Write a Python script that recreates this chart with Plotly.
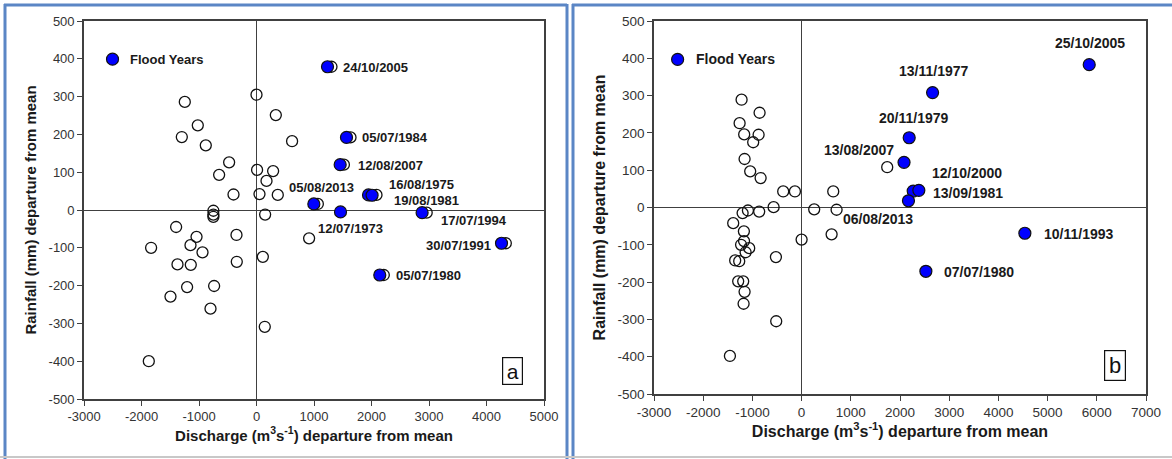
import plotly.graph_objects as go

# ---------------- data: panel a ----------------
a_other_x = [-476, -650, 10, 289, 174, -400, 52, 370, -750, -750, -750, 150, -1398, -1043, -348,
             -1833, -1148, -939, -343, 110, -1374, -1143, -1207, -737, -1496, -800,
             -1247, -1021, -1299, -882, 0, 336, 619, -1873, 144, 915,
             1304, 1635, 1520, 1067, 2087, 2960, 4336, 2214]
a_other_y = [126, 93, 106, 103, 77, 41, 42, 40, -2, -12, -18, -12, -45, -71, -66,
             -100, -93, -112, -137, -124, -144, -145, -204, -201, -229, -261,
             286, 224, 193, 171, 305, 251, 182, -400, -309, -75,
             379, 192, 120, 16, 40, -7, -88, -172]
a_flood_x = [1235, 1565, 1455, 997, 1461, 1948, 2010, 2880, 4261, 2144]
a_flood_y = [379, 192, 120, 16, -5, 40, 39, -7, -88, -172]
a_labels = ["24/10/2005", "05/07/1984", "12/08/2007", "05/08/2013", "16/08/1975",
            "19/08/1981", "17/07/1994", "12/07/1973", "30/07/1991", "05/07/1980"]
a_label_x = [1478, 1800, 1727, 539, 2278, 2348, 3170, 1043, 2910, 2388]
a_label_y = [376, 192, 119, 60, 68, 26, -28, -50, -93, -174]

# ---------------- data: panel b ----------------
b_other_x = [-1220, -854, -1260, -1167, -874, -984, -1159, -1045, -833, -374, -136, -569,
             -1199, -1091, -862, -1390, -1173, -1230, -1170, -1065, -1138, -1350, -1268,
             -1289, -1187, -1159, -1179, -522, -516, -1457, 0, 610, 643, 256, 711, 1740]
b_other_y = [289, 254, 226, 196, 195, 175, 130, 97, 79, 43, 43, 1,
             -15, -8, -11, -42, -64, -100, -90, -109, -120, -142, -144,
             -198, -198, -226, -258, -133, -305, -398, -86, -72, 43, -5, -6, 108]
b_flood_x = [5846, 2662, 2187, 2082, 2268, 2383, 2172, 4538, 2526]
b_flood_y = [383, 308, 187, 121, 44, 46, 18, -69, -171]
b_labels = ["25/10/2005", "13/11/1977", "20/11/1979", "13/08/2007", "12/10/2000",
            "13/09/1981", "06/08/2013", "10/11/1993", "07/07/1980"]
b_label_x = [5114, 1931, 1524, 407, 2608, 2622, 799, 4878, 2846]
b_label_y = [442, 365, 240, 153, 92, 40, -31, -71, -172]

# ---------------- ticks ----------------
y_ticks = [-500, -400, -300, -200, -100, 0, 100, 200, 300, 400, 500]
a_x_ticks = [-3000, -2000, -1000, 0, 1000, 2000, 3000, 4000, 5000]
b_x_ticks = [-3000, -2000, -1000, 0, 1000, 2000, 3000, 4000, 5000, 6000, 7000]

legend_text = "Flood Years"
x_title = "Discharge (m<sup>3</sup>s<sup>-1</sup>) departure from mean"
y_title = "Rainfall (mm) departure from mean"

FONT = "Liberation Sans, Arial, sans-serif"
BLUE = "#0000FF"
AXC = "#404040"

fig = go.Figure()

def add_panel(xo, yo, xf, yf, xa, ya, osize, fsize):
    fig.add_trace(go.Scatter(x=xo, y=yo, mode="markers", xaxis=xa, yaxis=ya,
                             marker=dict(size=osize, color="rgba(255,255,255,0)",
                                         line=dict(color="#111", width=1.3)),
                             showlegend=False, hoverinfo="x+y"))
    fig.add_trace(go.Scatter(x=xf, y=yf, mode="markers", xaxis=xa, yaxis=ya,
                             marker=dict(size=fsize, color=BLUE,
                                         line=dict(color="#111", width=1.2)),
                             showlegend=False, hoverinfo="x+y"))

add_panel(a_other_x, a_other_y, a_flood_x, a_flood_y, "x", "y", 11, 12)
add_panel(b_other_x, b_other_y, b_flood_x, b_flood_y, "x2", "y2", 11, 12)

# legend markers
fig.add_trace(go.Scatter(x=[-2504], y=[399], mode="markers", xaxis="x", yaxis="y",
                         marker=dict(size=12, color=BLUE, line=dict(color="#111", width=1.2)),
                         showlegend=False, hoverinfo="skip"))
fig.add_trace(go.Scatter(x=[-2520], y=[397], mode="markers", xaxis="x2", yaxis="y2",
                         marker=dict(size=12, color=BLUE, line=dict(color="#111", width=1.2)),
                         showlegend=False, hoverinfo="skip"))

annotations = []
for t, x, y in zip(a_labels, a_label_x, a_label_y):
    annotations.append(dict(text=f"<b>{t}</b>", x=x, y=y, xref="x", yref="y",
                            xanchor="left", yanchor="middle", showarrow=False,
                            font=dict(family=FONT, size=13, color="#1a1a1a")))
for t, x, y in zip(b_labels, b_label_x, b_label_y):
    annotations.append(dict(text=f"<b>{t}</b>", x=x, y=y, xref="x2", yref="y2",
                            xanchor="left", yanchor="middle", showarrow=False,
                            font=dict(family=FONT, size=14, color="#1a1a1a")))
annotations.append(dict(text=f"<b>{legend_text}</b>", x=-2243, y=399, xref="x", yref="y",
                        xanchor="left", yanchor="middle", showarrow=False,
                        font=dict(family=FONT, size=13, color="#1a1a1a")))
annotations.append(dict(text=f"<b>{legend_text}</b>", x=-2189, y=397, xref="x2", yref="y2",
                        xanchor="left", yanchor="middle", showarrow=False,
                        font=dict(family=FONT, size=14, color="#1a1a1a")))
# panel letters
annotations.append(dict(text="a", x=512 / 1172, y=1 - 371 / 459, xref="paper", yref="paper",
                        xanchor="center", yanchor="middle", showarrow=False,
                        width=17, height=24, borderpad=1, bordercolor="#111", borderwidth=1.2,
                        font=dict(family=FONT, size=21, color="#111")))
annotations.append(dict(text="b", x=1115 / 1172, y=1 - 365.5 / 459, xref="paper", yref="paper",
                        xanchor="center", yanchor="middle", showarrow=False,
                        width=18, height=27, borderpad=1, bordercolor="#111", borderwidth=1.2,
                        font=dict(family=FONT, size=22, color="#111")))

def xaxis(domain, ticks, rng, tsize, title_size, anchor):
    return dict(domain=domain, range=rng, tickvals=ticks, ticktext=[str(v) for v in ticks],
                showline=True, mirror=True, linecolor=AXC, linewidth=1.6,
                ticks="outside", ticklen=5, tickcolor=AXC, tickwidth=1.3,
                showgrid=False, zeroline=True, zerolinecolor=AXC, zerolinewidth=1.3,
                tickfont=dict(family=FONT, size=tsize, color="#333"),
                title=dict(text=f"<b>{x_title}</b>", standoff=6,
                           font=dict(family=FONT, size=title_size, color="#1a1a1a")),
                anchor=anchor, automargin=False)

def yaxis(domain, tsize, title_size, anchor):
    return dict(domain=domain, range=[-500, 500], tickvals=y_ticks,
                ticktext=[str(v) for v in y_ticks],
                showline=True, mirror=True, linecolor=AXC, linewidth=1.6,
                ticks="outside", ticklen=5, tickcolor=AXC, tickwidth=1.3,
                showgrid=False, zeroline=True, zerolinecolor=AXC, zerolinewidth=1.3,
                tickfont=dict(family=FONT, size=tsize, color="#333"),
                title=dict(text=f"<b>{y_title}</b>", standoff=8,
                           font=dict(family=FONT, size=title_size, color="#1a1a1a")),
                anchor=anchor, automargin=False)

W, H = 1172, 459
fig.update_layout(
    width=W, height=H, margin=dict(l=0, r=0, t=0, b=0, autoexpand=False),
    paper_bgcolor="white", plot_bgcolor="white",
    xaxis=xaxis([84 / W, 544 / W], a_x_ticks, [-3000, 5000], 13, 15, "y"),
    yaxis=yaxis([1 - 399 / H, 1 - 21 / H], 13, 15, "x"),
    xaxis2=xaxis([654 / W, 1146 / W], b_x_ticks, [-3000, 7000], 13.5, 16, "y2"),
    yaxis2=yaxis([1 - 394 / H, 1 - 21 / H], 13.5, 16, "x2"),
    annotations=annotations,
    shapes=[
        dict(type="line", xref="paper", yref="paper", x0=5 / W, x1=5 / W, y0=0, y1=1 - 4 / H,
             line=dict(color="#5B86C5", width=3)),
        dict(type="line", xref="paper", yref="paper", x0=4 / W, x1=567 / W, y0=1 - 5 / H, y1=1 - 5 / H,
             line=dict(color="#5B86C5", width=3)),
        dict(type="line", xref="paper", yref="paper", x0=567 / W, x1=567 / W, y0=0, y1=1 - 4 / H,
             line=dict(color="#5B86C5", width=3)),
        dict(type="line", xref="paper", yref="paper", x0=573 / W, x1=573 / W, y0=0, y1=1 - 4 / H,
             line=dict(color="#5B86C5", width=3)),
        dict(type="line", xref="paper", yref="paper", x0=572 / W, x1=1, y0=1 - 5 / H, y1=1 - 5 / H,
             line=dict(color="#5B86C5", width=3)),
        dict(type="line", xref="paper", yref="paper", x0=0, x1=1, y0=1 - 457 / H, y1=1 - 457 / H,
             line=dict(color="#C8C8C8", width=2)),
    ],
)

fig.write_html("out.html")
